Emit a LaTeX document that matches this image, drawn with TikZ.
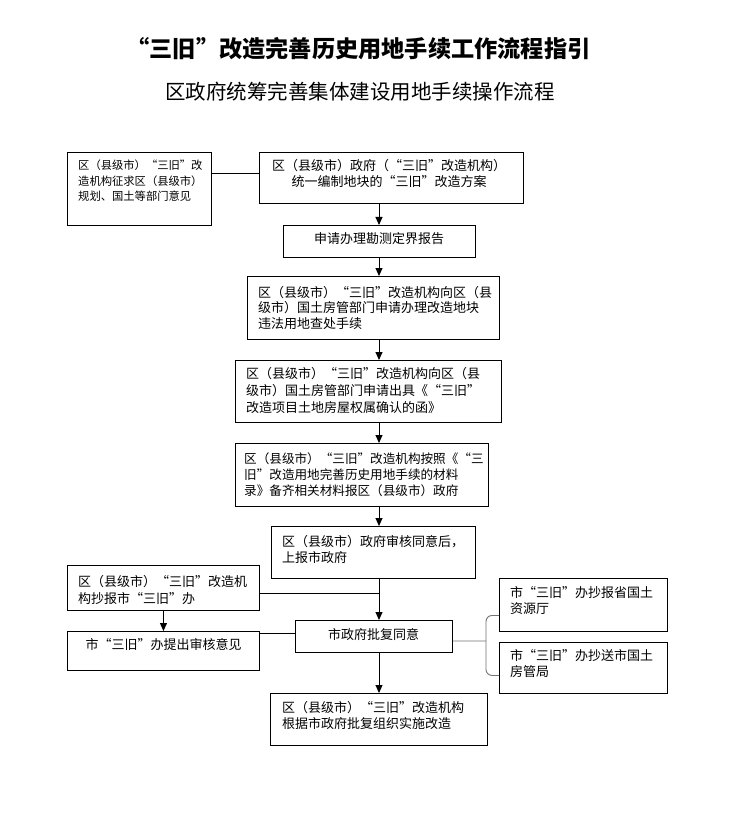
\documentclass[tikz,border=0pt]{standalone}
\usepackage{fontspec}
\setmainfont{Noto Sans CJK SC}[RawFeature=+fwid]
\usetikzlibrary{arrows.meta}
\begin{document}
\begin{tikzpicture}[x=1pt,y=-1pt,
  box/.style={draw=black, line width=0.9pt, anchor=north west, inner sep=0pt},
  txt/.style={anchor=base west, align=left, inner sep=0pt, font=\fontsize{13}{16}\selectfont},
  ctxt/.style={anchor=center, align=center, inner sep=0pt, font=\fontsize{13}{16}\selectfont},
  link/.style={line width=0.9pt},
  arr/.style={line width=0.9pt, -{Triangle[length=8pt,width=7pt]}},
  glink/.style={line width=0.9pt, draw=black!55, rounded corners=6pt}]
\useasboundingbox (0,0) rectangle (737,834);
\fill[white] (0,0) rectangle (737,834);

% titles
\node[inner sep=0pt, font=\fontsize{23.2}{27}\selectfont\bfseries] (title) at (358.5,49) {“三旧”改造完善历史用地手续工作流程指引};
\node[inner sep=0pt, font=\fontsize{20.5}{24}\selectfont] (sub) at (360,92) {区政府统筹完善集体建设用地手续操作流程};

% boxes
\node[box, minimum width=144pt, minimum height=73pt] (A) at (67,152) {};
\node[box, minimum width=264pt, minimum height=51pt] (B) at (259,152) {};
\node[box, minimum width=192pt, minimum height=32pt] (C) at (283,225) {};
\node[box, minimum width=252pt, minimum height=63pt] (D) at (247,276) {};
\node[box, minimum width=266pt, minimum height=62pt] (E) at (235,360) {};
\node[box, minimum width=253pt, minimum height=63pt] (F) at (235,443) {};
\node[box, minimum width=204pt, minimum height=52pt] (G) at (271,526) {};
\node[box, minimum width=192pt, minimum height=45pt] (H) at (67,565) {};
\node[box, minimum width=157pt, minimum height=32pt] (I) at (295,620) {};
\node[box, minimum width=192pt, minimum height=39pt] (J) at (67,631) {};
\node[box, minimum width=168pt, minimum height=53pt] (K) at (499,578) {};
\node[box, minimum width=168pt, minimum height=51pt] (L) at (499,642) {};
\node[box, minimum width=217pt, minimum height=52pt] (M) at (270,693) {};

% texts (base anchor = baseline of the last line)
\node[txt, font=\fontsize{11.3}{15.5}\selectfont] (At) at (78,201) {区（县级市）“三旧”改\\造机构征求区（县级市）\\规划、国土等部门意见};
\node[ctxt, font=\fontsize{13}{16.5}\selectfont] (Bt) at (389,173.5) {区（县级市）政府（“三旧”改造机构）\\统一编制地块的“三旧”改造方案};
\node[ctxt] (Ct) at (379,239) {申请办理勘测定界报告};
\node[txt, font=\fontsize{13}{15.5}\selectfont] (Dt) at (258,328) {区（县级市）“三旧”改造机构向区（县\\级市）国土房管部门申请办理改造地块\\违法用地查处手续};
\node[txt, font=\fontsize{13}{17}\selectfont] (Et) at (246,412) {区（县级市）“三旧”改造机构向区（县\\级市）国土房管部门申请出具《“三旧”\\改造项目土地房屋权属确认的函》};
\node[txt, font=\fontsize{12.6}{16}\selectfont] (Ft) at (244,495) {区（县级市）“三旧”改造机构按照《“三\\旧”改造用地完善历史用地手续的材料\\录》备齐相关材料报区（县级市）政府};
\node[txt] (Gt) at (282,562) {区（县级市）政府审核同意后，\\上报市政府};
\node[txt, font=\fontsize{13}{17}\selectfont] (Ht) at (78,603) {区（县级市）“三旧”改造机\\构抄报市“三旧”办};
\node[ctxt] (It) at (373.5,635) {市政府批复同意};
\node[ctxt] (Jt) at (163.5,645) {市“三旧”办提出审核意见};
\node[txt] (Kt) at (510,613) {市“三旧”办抄报省国土\\资源厅};
\node[txt] (Lt) at (510,676) {市“三旧”办抄送市国土\\房管局};
\node[txt] (Mt) at (282,728) {区（县级市）“三旧”改造机构\\根据市政府批复组织实施改造};

% connectors
\coordinate (sp) at (379,0);
\draw[link] ([yshift=4.5pt]B.west) -- ([yshift=4.5pt]B.west -| A.east);
\draw[arr] (sp |- B.south) -- (sp |- C.north);
\draw[arr] (sp |- C.south) -- (sp |- D.north);
\draw[arr] (sp |- D.south) -- (sp |- E.north);
\draw[arr] (sp |- E.south) -- (sp |- F.north);
\draw[arr] (sp |- F.south) -- (sp |- G.north);
\draw[arr] (sp |- G.south) -- (sp |- I.north);
\draw[link] ([yshift=-5.5pt]H.east) -- ([yshift=-5.5pt]H.east -| sp);
\draw[arr] (H.south) -- (J.north);
\draw[link] ([yshift=3.5pt]I.west) -- ([yshift=3.5pt]I.west -| J.east);
\draw[arr] (sp |- I.south) -- (sp |- M.north);
\coordinate (br) at (486,641);
\draw[glink] ([yshift=-4.5pt]I.east) -- (br);
\draw[glink] ([yshift=-10.5pt]K.west) -| (br) |- ([yshift=-7.5pt]L.west);
\end{tikzpicture}
\end{document}
